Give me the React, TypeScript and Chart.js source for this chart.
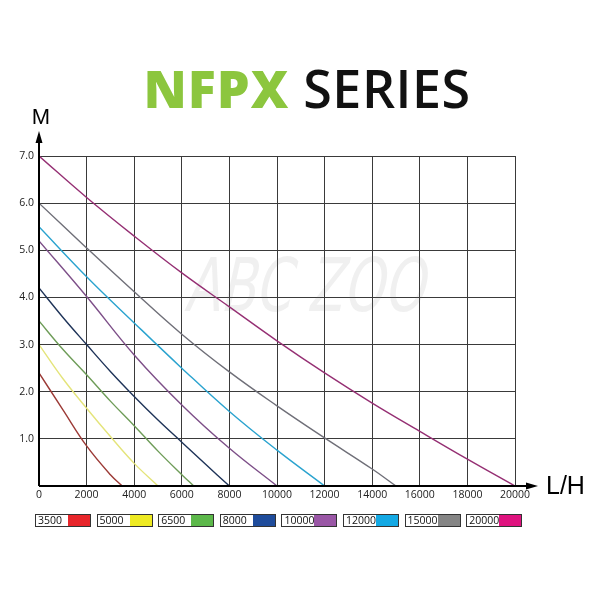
import React, { useEffect, useRef } from "react";
import { Chart, registerables } from "chart.js";
Chart.register(...registerables);

// ---- data ----
const flowTicks = [0, 2000, 4000, 6000, 8000, 10000, 12000, 14000, 16000, 18000, 20000];
const headTicks = [1, 2, 3, 4, 5, 6, 7];
const models = ["3500", "5000", "6500", "8000", "10000", "12000", "15000", "20000"];

const flow3500 = [0, 1000, 2000, 3000, 3500];
const head3500 = [2.4, 1.62, 0.85, 0.24, 0];
const flow5000 = [0, 1000, 2000, 3000, 4000, 5000];
const head5000 = [3.0, 2.28, 1.65, 1.05, 0.48, 0];
const flow6500 = [0, 1000, 2000, 3000, 4000, 5000, 6000, 6500];
const head6500 = [3.5, 2.9, 2.36, 1.8, 1.28, 0.74, 0.24, 0];
const flow8000 = [0, 1000, 2000, 3000, 4000, 5000, 6000, 7000, 8000];
const head8000 = [4.2, 3.58, 3.0, 2.43, 1.9, 1.4, 0.93, 0.46, 0];
const flow10000 = [0, 2000, 4000, 6000, 8000, 10000];
const head10000 = [5.2, 4.02, 2.78, 1.72, 0.8, 0];
const flow12000 = [0, 2000, 4000, 6000, 8000, 10000, 12000];
const head12000 = [5.5, 4.44, 3.46, 2.5, 1.58, 0.76, 0];
const flow15000 = [0, 2000, 4000, 6000, 8000, 10000, 12000, 14000, 15000];
const head15000 = [6.0, 5.05, 4.12, 3.22, 2.42, 1.7, 1.02, 0.36, 0];
const flow20000 = [0, 2000, 4000, 6000, 8000, 10000, 12000, 14000, 16000, 18000, 20000];
const head20000 = [7.0, 6.12, 5.3, 4.52, 3.8, 3.08, 2.4, 1.76, 1.16, 0.57, 0];

const flows = [flow3500, flow5000, flow6500, flow8000, flow10000, flow12000, flow15000, flow20000];
const heads = [head3500, head5000, head6500, head8000, head10000, head12000, head15000, head20000];

const lineColors = ["#9c3a36", "#e4e47a", "#6e9c58", "#1e3358", "#7d4f88", "#2aa3cf", "#6f6f78", "#952f73"];
const swatchColors = ["#e8262b", "#eeea22", "#5cb84a", "#1f4c9b", "#9a57a6", "#14a9e4", "#858585", "#df137f"];

// ---- layout ----
const LEFT = 39;
const RIGHT = 515;
const TOP = 156;
const BOTTOM = 486;

const axisPlugin = {
  id: "axisDecor",
  beforeDatasetsDraw(chart: any) {
    const ctx = chart.ctx;
    ctx.save();
    ctx.fillStyle = "rgba(120,120,120,0.11)";
    ctx.font = '74px "DejaVu Sans", sans-serif';
    ctx.textAlign = "center";
    ctx.textBaseline = "middle";
    ctx.translate(308, 292);
    ctx.transform(0.7, 0, -0.22, 1, 0, 0);
    ctx.fillText("ABC ZOO", 0, 0);
    ctx.restore();
  },
  afterDraw(chart: any) {
    const ctx = chart.ctx;
    const x0 = chart.scales.x.getPixelForValue(0);
    const y0 = chart.scales.y.getPixelForValue(0);
    ctx.save();
    ctx.strokeStyle = "#000";
    ctx.fillStyle = "#000";
    ctx.lineWidth = 2;
    ctx.beginPath();
    ctx.moveTo(x0, y0);
    ctx.lineTo(x0, 140);
    ctx.moveTo(x0, y0);
    ctx.lineTo(530, y0);
    ctx.stroke();
    ctx.beginPath();
    ctx.moveTo(x0, 131);
    ctx.lineTo(x0 - 3.5, 143);
    ctx.lineTo(x0 + 3.5, 143);
    ctx.closePath();
    ctx.fill();
    ctx.beginPath();
    ctx.moveTo(538, y0);
    ctx.lineTo(526, y0 - 3.5);
    ctx.lineTo(526, y0 + 3.5);
    ctx.closePath();
    ctx.fill();
    ctx.font = '22px "Liberation Sans", Arial, sans-serif';
    ctx.textAlign = "center";
    ctx.textBaseline = "middle";
    ctx.fillText("M", 41, 118);
    ctx.textAlign = "left";
    ctx.font = '25px "Liberation Sans", Arial, sans-serif';
    ctx.fillText("L/H", 546, 487);
    ctx.restore();
  },
};

export default function App() {
  const ref = useRef<HTMLCanvasElement | null>(null);
  useEffect(() => {
    document.body.style.margin = "0";
    const canvas = ref.current;
    if (!canvas) return;
    const chart = new Chart(canvas, {
      type: "line",
      data: {
        datasets: models.map((m, i) => ({
          label: m,
          data: flows[i].map((f, j) => ({ x: f, y: heads[i][j] })),
          borderColor: lineColors[i],
          backgroundColor: lineColors[i],
          borderWidth: 1.4,
          pointRadius: 0,
          tension: 0.4,
          fill: false,
        })),
      },
      options: {
        animation: false,
        responsive: false,
        maintainAspectRatio: false,
        layout: { padding: { left: 0, right: 600 - RIGHT, top: TOP, bottom: 0 } },
        plugins: { legend: { display: false }, tooltip: { enabled: false }, title: { display: false } },
        scales: {
          x: {
            type: "linear",
            min: 0,
            max: 20000,
            afterBuildTicks: (s: any) => {
              s.ticks = flowTicks.map((v) => ({ value: v }));
            },
            afterFit: (s: any) => {
              s.height = 600 - BOTTOM;
            },
            grid: { color: "#3a3a3a", lineWidth: 1, drawTicks: false },
            border: { display: true, color: "#3a3a3a", width: 1 },
            ticks: {
              color: "#222",
              font: { family: '"Open Sans", sans-serif', size: 10.5 },
              padding: 3,
              maxRotation: 0,
              autoSkip: false,
              callback: (v: any) => String(v),
            },
          },
          y: {
            type: "linear",
            min: 0,
            max: 7,
            position: "left",
            afterBuildTicks: (s: any) => {
              s.ticks = [0, ...headTicks].map((v) => ({ value: v }));
            },
            afterFit: (s: any) => {
              s.width = LEFT;
            },
            grid: { color: "#3a3a3a", lineWidth: 1, drawTicks: false },
            border: { display: true, color: "#3a3a3a", width: 1 },
            ticks: {
              color: "#222",
              font: { family: '"Open Sans", sans-serif', size: 10.5 },
              padding: 5,
              autoSkip: false,
              callback: (v: any) => (v === 0 ? "" : Number(v).toFixed(1)),
            },
          },
        },
      },
      plugins: [axisPlugin],
    } as any);
    return () => chart.destroy();
  }, []);

  const legendLeft = 35;
  const pitch = 61.6;

  return (
    <div style={{ position: "relative", width: 600, height: 600, background: "#fff", overflow: "hidden" }}>
      <div
        style={{
          position: "absolute",
          top: 60,
          left: 0,
          width: 614,
          textAlign: "center",
          fontSize: 52,
          lineHeight: "56px",
          whiteSpace: "nowrap",
        }}
      >
        <span style={{ color: "#8cc63e", fontFamily: '"Open Sans", sans-serif', fontWeight: 800, letterSpacing: 1 }}>
          NFPX
        </span>
        <span style={{ color: "#111", fontFamily: '"Open Sans", sans-serif', fontWeight: 600, letterSpacing: 0.5, marginLeft: 14 }}>
          SERIES
        </span>
      </div>
      <canvas ref={ref} width={600} height={600} style={{ position: "absolute", left: 0, top: 0, width: 600, height: 600 }} />
      {models.map((m, i) => (
        <div
          key={m}
          style={{
            position: "absolute",
            left: legendLeft + i * pitch,
            top: 514,
            width: 56,
            height: 13,
            border: "1px solid #333",
            boxSizing: "border-box",
            display: "flex",
            background: "#fff",
          }}
        >
          <div
            style={{
              width: 32,
              fontFamily: '"Open Sans", sans-serif',
              fontSize: 10.5,
              lineHeight: "11px",
              color: "#111",
              paddingLeft: 2,
              boxSizing: "border-box",
            }}
          >
            {m}
          </div>
          <div style={{ flex: 1, background: swatchColors[i] }} />
        </div>
      ))}
    </div>
  );
}
